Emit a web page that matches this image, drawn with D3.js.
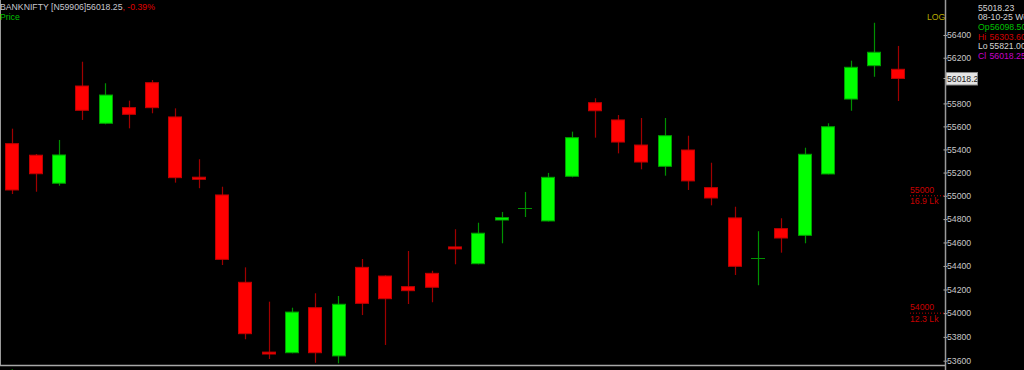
<!DOCTYPE html>
<html>
<head>
<meta charset="utf-8">
<script src="https://cdn.jsdelivr.net/npm/d3@7"></script>
<style>
  html, body { margin: 0; padding: 0; background: #000; }
  svg { display: block; font-family: "Liberation Sans", Arial, sans-serif; }
</style>
</head>
<body>
<svg width="1024" height="370"></svg>
<script>
// daily candles, BANKNIFTY, 12-08-25 .. 08-10-25
var dates = ["12-08-25", "13-08-25", "14-08-25", "18-08-25", "19-08-25", "20-08-25", "21-08-25", "22-08-25",
    "25-08-25", "26-08-25", "28-08-25", "29-08-25", "01-09-25", "02-09-25", "03-09-25", "04-09-25",
    "05-09-25", "08-09-25", "09-09-25", "10-09-25", "11-09-25", "12-09-25", "15-09-25", "16-09-25",
    "17-09-25", "18-09-25", "19-09-25", "22-09-25", "23-09-25", "24-09-25", "25-09-25", "26-09-25",
    "29-09-25", "30-09-25", "01-10-25", "03-10-25", "06-10-25", "07-10-25", "08-10-25"];

var opens = [55450, 55350, 55108, 55952, 55627, 55763, 55981, 55682, 55160, 55007, 54261, 53672, 53667,
    54046, 53640, 54388, 54314, 54224, 54337, 54562, 54419, 54792, 54893, 54784, 55168, 55806, 55656,
    55438, 55254, 55395, 55070, 54810, 54467, 54718, 54661, 55188, 55838, 56130, 56098.5];
var highs = [55580, 55360, 55482, 56165, 55976, 55824, 56004, 55757, 55315, 55078, 54388, 54097, 54046,
    54168, 54145, 54459, 54320, 54527, 54359, 54713, 54769, 54861, 55033, 55197, 55554, 55845, 55699,
    55673, 55673, 55519, 55285, 54906, 54696, 54807, 55415, 55627, 56174, 56508, 56303.6];
var lows = [55015, 55035, 55087, 55656, 55618, 55583, 55714, 55113, 55065, 54408, 53780, 53614, 53662,
    53583, 53578, 53984, 53732, 54077, 54092, 54414, 54414, 54593, 54818, 54780, 55159, 55502, 55366,
    55228, 55173, 55050, 54918, 54323, 54236, 54513, 54593, 55185, 55736, 56033, 55821];
var closes = [55050, 55190, 55352, 55740, 55873, 55705, 55763, 55156, 55142, 54456, 53827, 53656, 54009,
    53667, 54075, 54083, 54122, 54190, 54219, 54545, 54679, 54812, 54893, 55159, 55502, 55736, 55464,
    55291, 55519, 55128, 54981, 54397, 54467, 54638, 55358, 55597, 56116, 56248, 56018.25];

// 56000 sits under the last-price box, so its label is not shown
var priceTicks = [53600, 53800, 54000, 54200, 54400, 54600, 54800, 55000, 55200, 55400, 55600, 55800,
    56200, 56400];

var markLevels = [55000, 54000];
var markVolumes = ["16.9 Lk", "12.3 Lk"];

var lastPrice = 56018.25;
var infoLines = [
    {label: "", value: "55018.23", color: "#d4d4d4"},
    {label: "", value: "08-10-25 Wed", color: "#d4d4d4"},
    {label: "Op", value: "56098.50", color: "#00c000"},
    {label: "Hi", value: "56303.60", color: "#d00000"},
    {label: "Lo", value: "55821.00", color: "#d4d4d4"},
    {label: "Cl", value: "56018.25", color: "#c800c8"}
];

var svg = d3.select("svg"),
    axisX = 945.5,
    bottomY = 365.5,
    fs = "8.7px";

var candles = dates.map(function (d, i) {
    return {date: d, o: opens[i], h: highs[i], l: lows[i], c: closes[i]};
});

var x = d3.scaleBand()
    .domain(dates)
    .range([0.65, 909.35])
    .paddingInner(0.4)
    .paddingOuter(0.2);

var y = d3.scaleLog()
    .domain([53600, 56400])
    .range([360.7, 35]);

svg.append("rect").attr("width", 1024).attr("height", 370).attr("fill", "#000");

// frame lines
svg.append("line")
    .attr("x1", 0.5).attr("x2", 0.5).attr("y1", 0).attr("y2", bottomY)
    .attr("stroke", "#9a9a9a");
svg.append("line")
    .attr("x1", 0).attr("x2", axisX).attr("y1", bottomY).attr("y2", bottomY)
    .attr("stroke", "#a8a8a8").attr("stroke-width", 1.5);

// candles
var g = svg.append("g");
var bw = Math.round(x.bandwidth()) - 1;

var cg = g.selectAll(".candle")
    .data(candles)
    .enter().append("g")
    .attr("class", "candle");

cg.append("line")
    .attr("x1", function (d) { return Math.round(x(d.date) + x.bandwidth() / 2) + 0.5; })
    .attr("x2", function (d) { return Math.round(x(d.date) + x.bandwidth() / 2) + 0.5; })
    .attr("y1", function (d) { return y(d.h); })
    .attr("y2", function (d) { return y(d.l); })
    .attr("stroke", function (d) { return d.c >= d.o ? "#009000" : "#a00000"; })
    .attr("stroke-width", 1.2);

cg.filter(function (d) { return d.o !== d.c; })
    .append("rect")
    .attr("x", function (d) { return Math.round(x(d.date)) + 0.5; })
    .attr("width", bw)
    .attr("y", function (d) { return y(Math.max(d.o, d.c)); })
    .attr("height", function (d) { return Math.max(1, Math.abs(y(d.o) - y(d.c))); })
    .attr("fill", function (d) { return d.c > d.o ? "#00ff00" : "#ff0000"; })
    .attr("stroke", function (d) { return d.c > d.o ? "#00a000" : "#c00000"; });

cg.filter(function (d) { return d.o === d.c; })
    .append("line")
    .attr("x1", function (d) { return Math.round(x(d.date)); })
    .attr("x2", function (d) { return Math.round(x(d.date)) + bw + 1; })
    .attr("y1", function (d) { return Math.round(y(d.o)) + 0.5; })
    .attr("y2", function (d) { return Math.round(y(d.o)) + 0.5; })
    .attr("stroke", "#009000");

// price axis
var axis = svg.append("g")
    .attr("transform", "translate(" + axisX + ",0)")
    .call(d3.axisRight(y).tickValues(priceTicks).tickFormat(d3.format("d")).tickSize(2));

axis.select(".domain").remove();
axis.selectAll(".tick line").attr("x1", -2).attr("x2", 2).attr("stroke", "#b0b0b0");
axis.selectAll(".tick text")
    .attr("x", 1.5)
    .attr("fill", "#c8c8c8")
    .style("font-size", fs)
    .style("font-family", "'Liberation Sans', Arial, sans-serif");

svg.append("line")
    .attr("x1", axisX).attr("x2", axisX).attr("y1", 0).attr("y2", 370)
    .attr("stroke", "#9a9a9a").attr("stroke-width", 1.5);

// last price box
var ly = Math.round(y(lastPrice));
svg.append("clipPath").attr("id", "lastclip")
    .append("rect").attr("x", axisX).attr("y", ly - 6).attr("width", 32).attr("height", 13);
svg.append("rect")
    .attr("x", axisX + 0.5).attr("y", ly - 5.5).attr("width", 31.5).attr("height", 12.5)
    .attr("fill", "#e4e4e4").attr("stroke", "#8a8a8a");
svg.append("line")
    .attr("x1", axisX - 2).attr("x2", axisX + 1).attr("y1", ly + 0.5).attr("y2", ly + 0.5)
    .attr("stroke", "#b0b0b0");
svg.append("text")
    .attr("x", axisX + 1.5).attr("y", ly + 4)
    .attr("clip-path", "url(#lastclip)")
    .attr("fill", "#202020").style("font-size", fs)
    .text(d3.format(".2f")(lastPrice));

// volume level markers
markLevels.forEach(function (p, i) {
    var my = y(p);
    svg.append("line")
        .attr("x1", 910).attr("x2", axisX - 1).attr("y1", my).attr("y2", my)
        .attr("stroke", "#c00000").attr("stroke-dasharray", "1,2");
    svg.append("text").attr("x", 910).attr("y", my - 3)
        .attr("fill", "#c80000").style("font-size", fs).text(p);
    svg.append("text").attr("x", 910).attr("y", my + 8.5)
        .attr("fill", "#c80000").style("font-size", fs).text(markVolumes[i]);
});

// header
var head = svg.append("text").attr("x", 0).attr("y", 9.5).style("font-size", fs);
head.append("tspan").attr("fill", "#c8c8d0").text("BANKNIFTY [N59906]56018.25");
head.append("tspan").attr("fill", "#e00000").text(",  -0.39%");

svg.append("text").attr("x", 0).attr("y", 19.5)
    .attr("fill", "#00c000").style("font-size", fs).text("Price");

svg.append("text").attr("x", 927).attr("y", 20)
    .attr("fill", "#b8a800").style("font-size", fs).text("LOG");

// volume pane title, mostly below the window edge
svg.append("text").attr("x", 1).attr("y", 376)
    .attr("fill", "#00a000").style("font-size", fs).text("Vol");

// info panel
infoLines.forEach(function (d, i) {
    var ty = 10.5 + i * 9.7;
    if (d.label) {
        svg.append("text").attr("x", 978).attr("y", ty)
            .attr("fill", d.color).style("font-size", fs).text(d.label);
        svg.append("text").attr("x", d.label === "Op" ? 990 : 989.5).attr("y", ty)
            .attr("fill", d.color).style("font-size", fs).text(d.value);
    } else {
        svg.append("text").attr("x", 978).attr("y", ty)
            .attr("fill", d.color).style("font-size", fs).text(d.value);
    }
});
</script>
</body>
</html>
